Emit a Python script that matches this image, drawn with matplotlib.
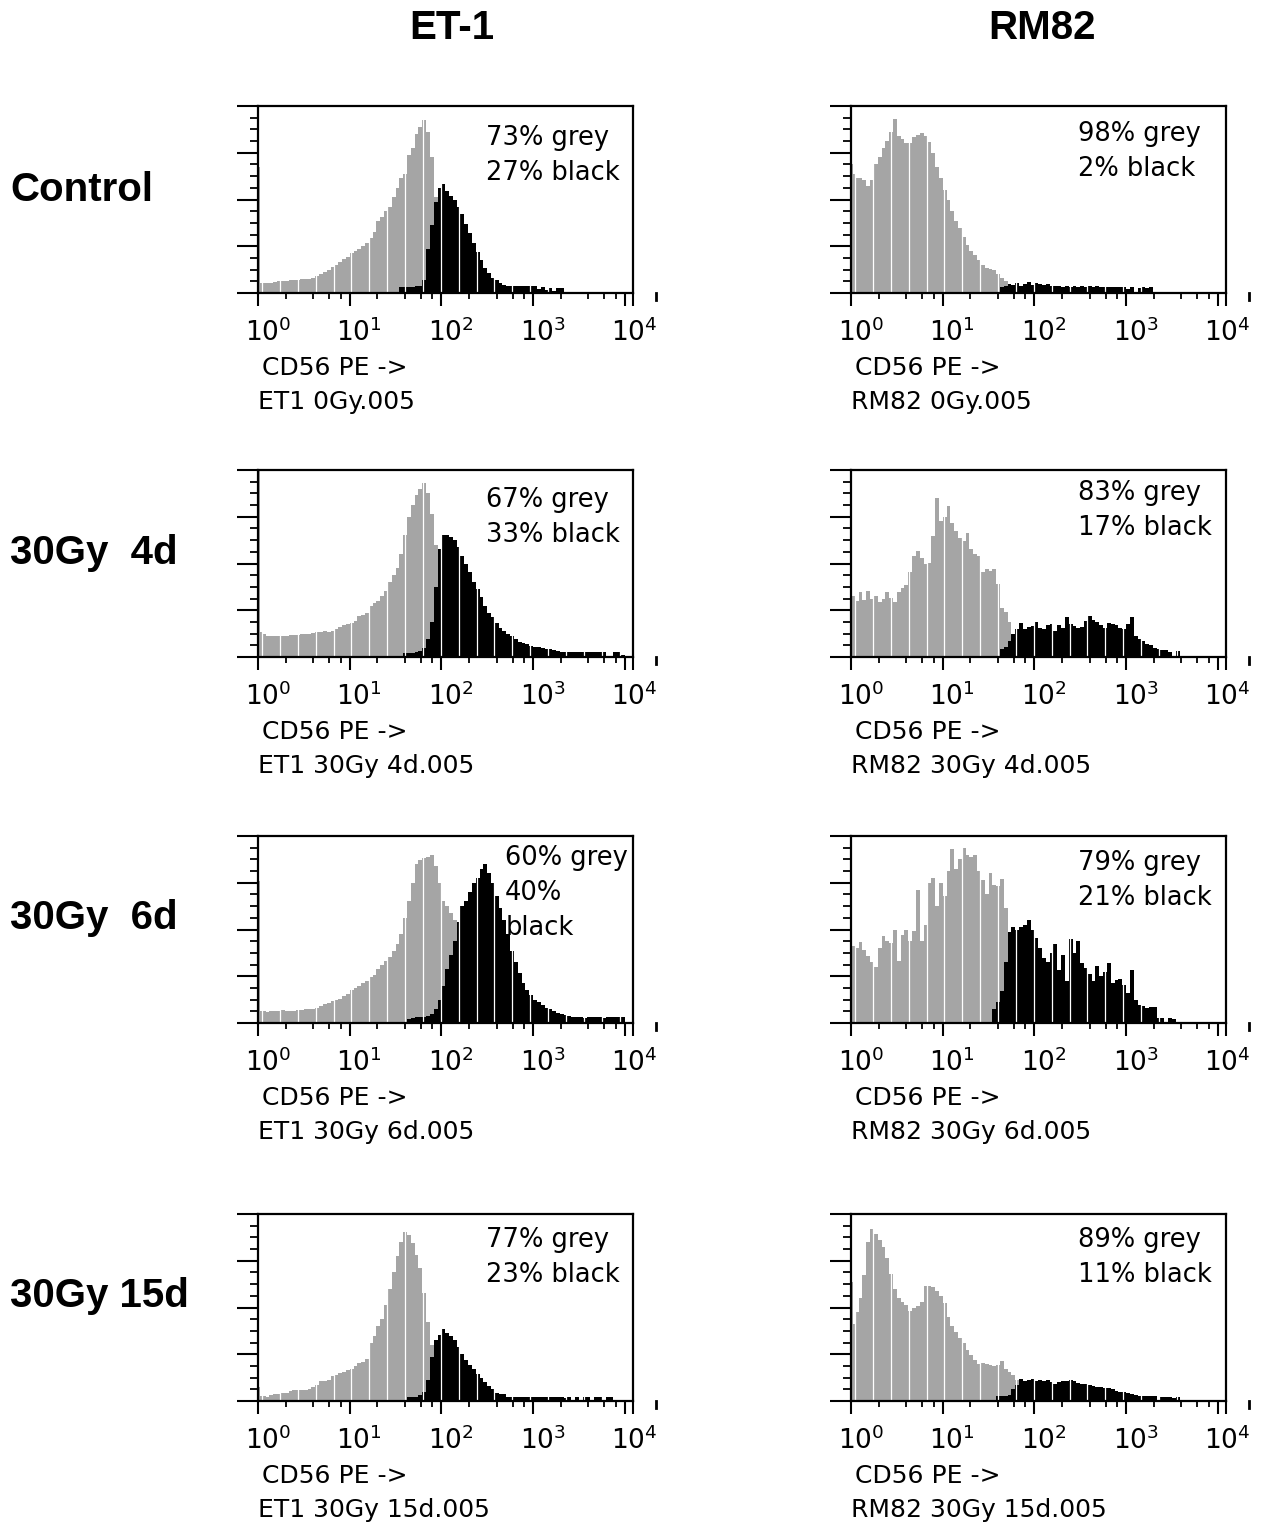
import numpy as np
import matplotlib
matplotlib.use('Agg')
import matplotlib.pyplot as plt
from matplotlib.lines import Line2D
from matplotlib.ticker import NullFormatter
from matplotlib.transforms import ScaledTranslation

plt.rcParams['mathtext.default'] = 'regular'

# histogram channels: 24 per decade over 10^0 .. 10^4
bins_per_decade = 24
edges = 10 ** (np.arange(4 * bins_per_decade + 1) / bins_per_decade)

col_titles = ['ET-1', 'RM82']
row_titles = ['Control', '30Gy  4d', '30Gy  6d', '30Gy 15d']
x_label = 'CD56 PE ->'
tick_vals = [1, 10, 100, 1000, 10000]
tick_labels = [r'$10^0$', r'$10^1$', r'$10^2$', r'$10^3$', r'$10^4$']

# ---- ET-1 ----
et1_ctrl_grey = [0.22, 0.22, 0.21, 0.22, 0.24, 0.25, 0.26, 0.25, 0.27, 0.27,
                 0.28, 0.29, 0.29, 0.30, 0.33, 0.36, 0.40, 0.45, 0.50, 0.55,
                 0.60, 0.66, 0.72, 0.78, 0.86, 0.90, 0.95, 1.00, 1.08, 1.18,
                 1.30, 1.55, 1.62, 1.75, 1.85, 2.05, 2.25, 2.45, 2.55, 2.95,
                 3.10, 3.40, 3.55, 3.70, 3.45, 2.90, 2.05, 1.40, 0.80, 0.40]
et1_ctrl_spike = 2.7
et1_ctrl_black_from = 37
et1_ctrl_black = [0.12, 0.13, 0.13, 0.13, 0.14, 0.16, 0.28, 0.95, 1.45, 1.95,
                  2.25, 2.34, 2.18, 2.08, 2.00, 1.85, 1.68, 1.48, 1.28, 1.08,
                  0.88, 0.70, 0.54, 0.42, 0.33, 0.27, 0.22, 0.18, 0.14, 0.14,
                  0.14, 0.14, 0.14, 0.14, 0.14, 0.14, 0.08, 0.12, 0.06, 0.10,
                  0.05, 0.10, 0.10]

et1_4d_grey = [0.54, 0.49, 0.45, 0.44, 0.44, 0.44, 0.45, 0.44, 0.46, 0.48,
               0.48, 0.50, 0.49, 0.50, 0.52, 0.54, 0.53, 0.55, 0.54, 0.56,
               0.60, 0.64, 0.68, 0.70, 0.72, 0.78, 0.88, 0.90, 0.95, 1.10,
               1.15, 1.20, 1.30, 1.42, 1.60, 1.75, 1.90, 2.20, 2.60, 3.00,
               3.25, 3.46, 3.60, 3.72, 3.50, 3.05, 2.40, 1.50, 0.80]
et1_4d_spike = 4.0
et1_4d_black_from = 38
et1_4d_black = [0.09, 0.09, 0.09, 0.10, 0.12, 0.20, 0.38, 0.75, 1.50, 2.30,
                2.60, 2.60, 2.57, 2.50, 2.35, 2.15, 1.98, 1.82, 1.60, 1.45,
                1.28, 1.10, 0.95, 0.85, 0.72, 0.62, 0.55, 0.50, 0.44, 0.38,
                0.33, 0.29, 0.27, 0.24, 0.22, 0.22, 0.20, 0.18, 0.17, 0.16,
                0.13, 0.11, 0.11, 0.11, 0.11, 0.11, 0.11, 0.11, 0.11, 0.11,
                0.11, 0.11, 0.11, 0.00, 0.00, 0.11, 0.11, 0.05]

et1_6d_grey = [0.25, 0.25, 0.24, 0.25, 0.26, 0.25, 0.27, 0.25, 0.26, 0.26,
               0.28, 0.28, 0.30, 0.29, 0.31, 0.32, 0.36, 0.40, 0.42, 0.48,
               0.50, 0.52, 0.58, 0.62, 0.70, 0.75, 0.80, 0.86, 0.90, 0.98,
               1.02, 1.15, 1.25, 1.33, 1.42, 1.55, 1.70, 1.90, 2.25, 2.60,
               3.00, 3.40, 3.48, 3.52, 3.55, 3.60, 3.35, 3.00, 2.60, 2.50,
               2.35, 2.20, 1.80]
et1_6d_spike = 3.04
et1_6d_black_from = 39
et1_6d_black = [0.09, 0.10, 0.12, 0.13, 0.13, 0.15, 0.20, 0.30, 0.50, 0.80,
                1.15, 1.45, 1.75, 2.15, 2.50, 2.62, 2.80, 3.00, 3.10, 3.30,
                3.40, 3.20, 3.00, 2.72, 2.45, 2.20, 1.90, 1.55, 1.30, 1.08,
                0.85, 0.70, 0.60, 0.50, 0.44, 0.38, 0.33, 0.30, 0.25, 0.22,
                0.20, 0.17, 0.15, 0.13, 0.13, 0.13, 0.10, 0.13, 0.13, 0.13,
                0.13, 0.10, 0.13, 0.13, 0.13, 0.13, 0.13]

et1_15d_grey = [0.11, 0.10, 0.09, 0.12, 0.16, 0.16, 0.17, 0.17, 0.22, 0.23,
                0.23, 0.24, 0.24, 0.25, 0.30, 0.35, 0.42, 0.43, 0.45, 0.54,
                0.56, 0.60, 0.63, 0.66, 0.68, 0.75, 0.81, 0.83, 0.90, 1.25,
                1.40, 1.60, 1.75, 2.05, 2.40, 2.75, 3.10, 3.40, 3.62, 3.55,
                3.38, 3.12, 2.85, 2.30, 1.70, 1.20]
et1_15d_spike = 0.29
et1_15d_black_from = 39
et1_15d_black = [0.09, 0.09, 0.09, 0.12, 0.20, 0.45, 0.95, 1.30, 1.42, 1.55,
                 1.45, 1.40, 1.30, 1.15, 1.00, 0.88, 0.78, 0.68, 0.58, 0.50,
                 0.40, 0.33, 0.25, 0.17, 0.16, 0.14, 0.09, 0.09, 0.09, 0.09,
                 0.09, 0.09, 0.09, 0.09, 0.09, 0.09, 0.09, 0.09, 0.09, 0.09,
                 0.09, 0.06, 0.09, 0.00, 0.09, 0.00, 0.09, 0.09, 0.00, 0.09,
                 0.09, 0.00, 0.09, 0.09]

# ---- RM82 ----
rm82_ctrl_grey = [2.55, 2.45, 2.45, 2.42, 2.28, 2.42, 2.75, 2.90, 3.10, 3.25,
                  3.45, 3.72, 3.35, 3.30, 3.20, 3.20, 3.33, 3.38, 3.42, 3.35,
                  3.22, 3.00, 2.70, 2.45, 2.20, 1.98, 1.75, 1.55, 1.38, 1.20,
                  1.02, 0.90, 0.82, 0.70, 0.60, 0.53, 0.52, 0.50, 0.40, 0.33,
                  0.25, 0.20]
rm82_ctrl_spike = 2.77
rm82_ctrl_black_from = 39
rm82_ctrl_black = [0.12, 0.15, 0.20, 0.18, 0.22, 0.16, 0.20, 0.24, 0.18, 0.22,
                   0.20, 0.17, 0.20, 0.15, 0.14, 0.16, 0.13, 0.15, 0.13, 0.14,
                   0.13, 0.14, 0.13, 0.14, 0.12, 0.14, 0.13, 0.12, 0.13, 0.12,
                   0.12, 0.13, 0.12, 0.08, 0.12, 0.00, 0.10, 0.12, 0.10, 0.12]

rm82_4d_grey = [1.31, 1.20, 1.38, 1.22, 1.42, 1.25, 1.30, 1.18, 1.25, 1.38,
                1.27, 1.17, 1.38, 1.48, 1.55, 1.81, 2.16, 2.27, 2.12, 1.98,
                2.02, 2.59, 3.40, 2.90, 3.00, 3.23, 2.87, 2.70, 2.55, 2.48,
                2.66, 2.30, 2.20, 2.16, 1.81, 1.88, 1.85, 1.88, 1.56, 1.05,
                0.96, 0.74, 0.50]
rm82_4d_spike = 0.0
rm82_4d_black_from = 39
rm82_4d_black = [0.18, 0.21, 0.35, 0.50, 0.60, 0.72, 0.60, 0.65, 0.67, 0.75,
                 0.62, 0.60, 0.68, 0.70, 0.55, 0.68, 0.62, 0.85, 0.70, 0.66,
                 0.62, 0.65, 0.78, 0.88, 0.80, 0.75, 0.68, 0.62, 0.72, 0.70,
                 0.68, 0.62, 0.60, 0.70, 0.85, 0.45, 0.38, 0.35, 0.28, 0.25,
                 0.20, 0.18, 0.14, 0.14, 0.10, 0.00, 0.12]

rm82_6d_grey = [1.64, 1.60, 1.73, 1.57, 1.43, 1.30, 1.20, 1.60, 1.86, 1.75,
                1.72, 2.00, 1.32, 1.88, 2.00, 1.75, 1.96, 2.85, 1.75, 2.10,
                3.00, 3.10, 2.50, 3.00, 2.72, 3.25, 3.72, 3.29, 3.50, 3.75,
                3.60, 3.55, 3.60, 3.25, 3.05, 2.75, 3.20, 2.95, 2.92, 3.07,
                2.45, 1.95]
rm82_6d_spike = 0.0
rm82_6d_black_from = 37
rm82_6d_black = [0.30, 0.45, 0.68, 1.30, 1.95, 2.05, 2.00, 2.05, 2.10, 2.20,
                 2.00, 1.82, 1.60, 1.40, 1.30, 1.50, 1.70, 1.14, 1.46, 0.89,
                 1.79, 1.50, 1.75, 1.29, 1.18, 1.05, 0.89, 1.21, 1.00, 1.10,
                 1.29, 0.86, 0.93, 0.95, 0.82, 0.64, 1.14, 0.50, 0.39, 0.36,
                 0.33, 0.35, 0.34, 0.11, 0.11, 0.00, 0.10, 0.08]

rm82_15d_grey = [1.64, 1.90, 2.20, 2.70, 3.40, 3.68, 3.57, 3.45, 3.30, 3.05,
                 2.72, 2.40, 2.20, 2.12, 2.05, 1.93, 2.00, 2.04, 2.11, 2.45,
                 2.46, 2.43, 2.35, 2.25, 2.10, 1.80, 1.60, 1.48, 1.35, 1.25,
                 1.10, 0.98, 0.88, 0.80, 0.82, 0.79, 0.78, 0.75, 0.78, 0.86,
                 0.68, 0.62, 0.55, 0.45]
rm82_15d_spike = 2.54
rm82_15d_black_from = 38
rm82_15d_black = [0.10, 0.10, 0.11, 0.12, 0.25, 0.35, 0.48, 0.43, 0.45, 0.47,
                  0.43, 0.44, 0.43, 0.45, 0.40, 0.37, 0.40, 0.43, 0.42, 0.44,
                  0.42, 0.38, 0.37, 0.36, 0.34, 0.32, 0.31, 0.29, 0.27, 0.27,
                  0.25, 0.21, 0.20, 0.19, 0.17, 0.14, 0.13, 0.11, 0.11, 0.11,
                  0.11, 0.10, 0.00, 0.08, 0.08, 0.08, 0.07, 0.08]

et1_pct = ['73% grey\n27% black', '67% grey\n33% black',
           '60% grey\n40%\nblack', '77% grey\n23% black']
rm82_pct = ['98% grey\n2% black', '83% grey\n17% black',
            '79% grey\n21% black', '89% grey\n11% black']
et1_files = ['ET1 0Gy.005', 'ET1 30Gy 4d.005', 'ET1 30Gy 6d.005', 'ET1 30Gy 15d.005']
rm82_files = ['RM82 0Gy.005', 'RM82 30Gy 4d.005', 'RM82 30Gy 6d.005', 'RM82 30Gy 15d.005']

et1_data = [
    (et1_ctrl_grey, et1_ctrl_spike, et1_ctrl_black_from, et1_ctrl_black),
    (et1_4d_grey, et1_4d_spike, et1_4d_black_from, et1_4d_black),
    (et1_6d_grey, et1_6d_spike, et1_6d_black_from, et1_6d_black),
    (et1_15d_grey, et1_15d_spike, et1_15d_black_from, et1_15d_black),
]
rm82_data = [
    (rm82_ctrl_grey, rm82_ctrl_spike, rm82_ctrl_black_from, rm82_ctrl_black),
    (rm82_4d_grey, rm82_4d_spike, rm82_4d_black_from, rm82_4d_black),
    (rm82_6d_grey, rm82_6d_spike, rm82_6d_black_from, rm82_6d_black),
    (rm82_15d_grey, rm82_15d_spike, rm82_15d_black_from, rm82_15d_black),
]

# ---- layout (pixels) ----
W, H = 1265, 1526
col_left = [258, 851]
col_width = 375
row_top = [106, 470, 836, 1214]
row_height = 187
# where the percentage text starts (axes fraction) per column / row
pct_pos = [[(0.608, 0.83), (0.608, 0.84), (0.659, 0.88), (0.608, 0.86)],
           [(0.605, 0.85), (0.605, 0.875), (0.605, 0.855), (0.605, 0.86)]]

grey_col = '#a5a5a5'
xmax = 10 ** 4.09

fig = plt.figure(figsize=(W / 100, H / 100), dpi=100)
label_shift = ScaledTranslation(7 / 72, 0, fig.dpi_scale_trans)


def draw_panel(ax, data, pct, fname, pos):
    grey, spike, black_from, black = data
    ax.stairs(grey, edges[:len(grey) + 1], fill=True, color=grey_col, lw=0, zorder=1)
    if spike > 0:
        ax.stairs([spike], [1, 10 ** 0.025], fill=True, color=grey_col, lw=0, zorder=1)
    ax.stairs(black, edges[black_from:black_from + len(black) + 1], fill=True,
              color='black', lw=0, zorder=1.2)
    # thin white channel separators seen in the printout
    seps = 10 ** (0.044 + 0.195 * np.arange(21))
    ax.vlines(seps[seps < 10 ** 4], 0, 4, color='white', lw=0.9, zorder=1.5)

    ax.set_xscale('log')
    ax.set_xlim(1, xmax)
    ax.set_ylim(0, 4)
    ax.set_xticks(tick_vals + [xmax], labels=tick_labels + [''])
    ax.set_xticks([m * 10 ** d for d in range(4) for m in (2, 4, 6, 8)], minor=True)
    ax.xaxis.set_minor_formatter(NullFormatter())
    ax.set_yticks([0, 1, 2, 3, 4], labels=[])
    ax.set_yticks(np.arange(0.25, 4, 0.25), minor=True)
    ax.tick_params(axis='y', which='major', length=15, width=1.5, direction='out')
    ax.tick_params(axis='y', which='minor', length=6, width=1.3, direction='out')
    ax.tick_params(axis='x', which='major', length=9.5, width=1.5, pad=9,
                   labelsize=19, direction='out')
    ax.tick_params(axis='x', which='minor', length=4.5, width=1.3, direction='out')
    for lab in ax.get_xticklabels():
        lab.set_transform(lab.get_transform() + label_shift)
    for s in ax.spines.values():
        s.set_linewidth(1.6)

    x0, y0 = pos
    for k, line in enumerate(pct.split('\n')):
        ax.text(x0, y0 - k * 0.187, line, transform=ax.transAxes, fontsize=18.5,
                ha='left', va='center', zorder=3)
    ax.text(0.01, -0.4, x_label, transform=ax.transAxes, fontsize=18,
            ha='left', va='center')
    ax.text(0.0, -0.585, fname, transform=ax.transAxes, fontsize=18,
            ha='left', va='center')
    ax.add_line(Line2D([1.06, 1.06], [0.0, -0.035], transform=ax.transAxes,
                       color='black', lw=2, clip_on=False))


for c, (datas, pcts, files) in enumerate([(et1_data, et1_pct, et1_files),
                                          (rm82_data, rm82_pct, rm82_files)]):
    for r in range(4):
        rect = [col_left[c] / W, 1 - (row_top[r] + row_height) / H,
                col_width / W, row_height / H]
        ax = fig.add_axes(rect)
        draw_panel(ax, datas[r], pcts[r], files[r], pct_pos[c][r])

title_font = dict(family='Liberation Sans', fontweight='bold', fontsize=29)
fig.text(452 / W, 1 - 28 / H, col_titles[0], ha='center', va='center', **title_font)
fig.text(1042 / W, 1 - 28 / H, col_titles[1], ha='center', va='center', **title_font)
for r, y in enumerate([190, 553, 918, 1296]):
    fig.text(10 / W, 1 - y / H, row_titles[r], ha='left', va='center', **title_font)

fig.savefig('out.png', dpi=100)
